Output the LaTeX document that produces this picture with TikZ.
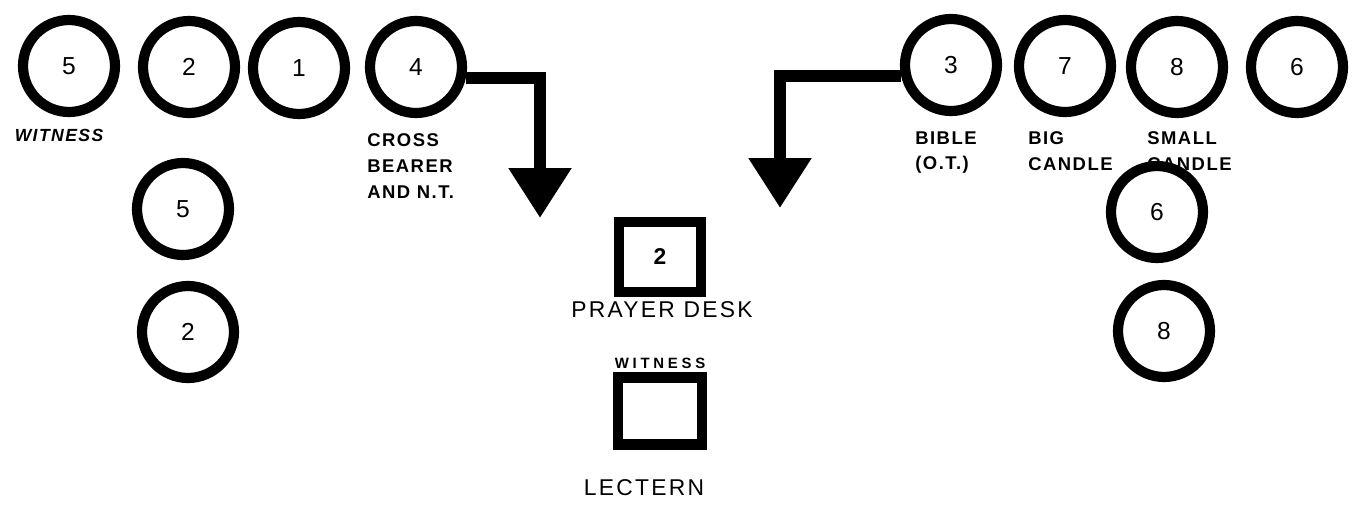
\documentclass[tikz,border=0pt]{standalone}
\usepackage{fontspec}
\setmainfont{Liberation Sans}
\newfontfamily\lblfont{Liberation Sans}[LetterSpace=8]
\newfontfamily\deskfont{Liberation Sans}[LetterSpace=10]
\newfontfamily\tinyfont{Liberation Sans}[LetterSpace=25]
\usetikzlibrary{arrows.meta,positioning}

\begin{document}
\begin{tikzpicture}[x=0.02cm, y=-0.02cm,
	ring/.style={draw,circle,line width=5.8pt,minimum size=1.84cm,
		font=\fontsize{14}{16}\selectfont},
	desk/.style={draw,rectangle,line width=5.8pt,minimum width=1.64cm,
		minimum height=1.4cm,font=\fontsize{13}{15}\selectfont\bfseries},
	lbl/.style={inner sep=0pt,align=left,anchor=north west,
		font=\lblfont\fontsize{10.5}{15}\selectfont\bfseries},
	walk/.style={line width=6.8pt,-{Triangle[width=1.2cm,length=1cm]}}]
	\useasboundingbox (0,0) rectangle (1356,507);
	% left file
	\node[ring] (l5) at (69, 66) {5};
	\node[ring] (l2) at (189, 67) {2};
	\node[ring] (l1) at (299, 68) {1};
	\node[ring] (l4) at (416, 67) {4};
	\node[ring] (m5) at (183, 209) {5};
	\node[ring] (m2) at (188, 332) {2};
	% right file
	\node[ring] (r3) at (951, 65) {3};
	\node[ring] (r7) at (1065, 66) {7};
	\node[ring] (r8) at (1177, 67) {8};
	\node[ring] (r6) at (1297, 67) {6};
	\node[ring] (s6) at (1157, 212) {6};
	\node[ring] (s8) at (1164, 331) {8};
	% labels
	\node[inner sep=0pt,font=\lblfont\fontsize{10}{12}\selectfont\bfseries\itshape] (wit) at (59, 135) {WITNESS};
	\node[lbl] (cross) at (367, 133) {CROSS\\BEARER\\AND N.T.};
	\node[lbl,font=\lblfont\fontsize{10.5}{14.7}\selectfont\bfseries] (bible) at (915, 131) {BIBLE\\(O.T.)};
	\node[lbl,font=\lblfont\fontsize{10.5}{14.7}\selectfont\bfseries] (big) at (1028, 131) {BIG\\CANDLE};
	\node[lbl,font=\lblfont\fontsize{10.5}{14.7}\selectfont\bfseries] (small) at (1147, 131) {SMALL\\CANDLE};
	% desk and lectern
	\node[desk] (pd) at (660, 257) {2};
	\node[font=\deskfont\fontsize{13}{15}\selectfont] (pdt) at (662, 310) {PRAYER DESK};
	\node[inner sep=0pt,font=\tinyfont\fontsize{8.5}{10}\selectfont\bfseries] (w2) at (660, 363) {WITNESS};
	\node[desk,minimum width=1.68cm,minimum height=1.34cm] (lec) at (660, 411) {};
	\node[font=\deskfont\fontsize{13}{15}\selectfont] (lect) at (644, 488) {LECTERN};
	% routes
	\coordinate (tl) at (540, 218);
	\coordinate (tr) at (780, 208);
	\draw[walk] (l4.-12) -| (tl);
	\draw[walk] (r3.192) -| (tr);
\end{tikzpicture}
\end{document}
